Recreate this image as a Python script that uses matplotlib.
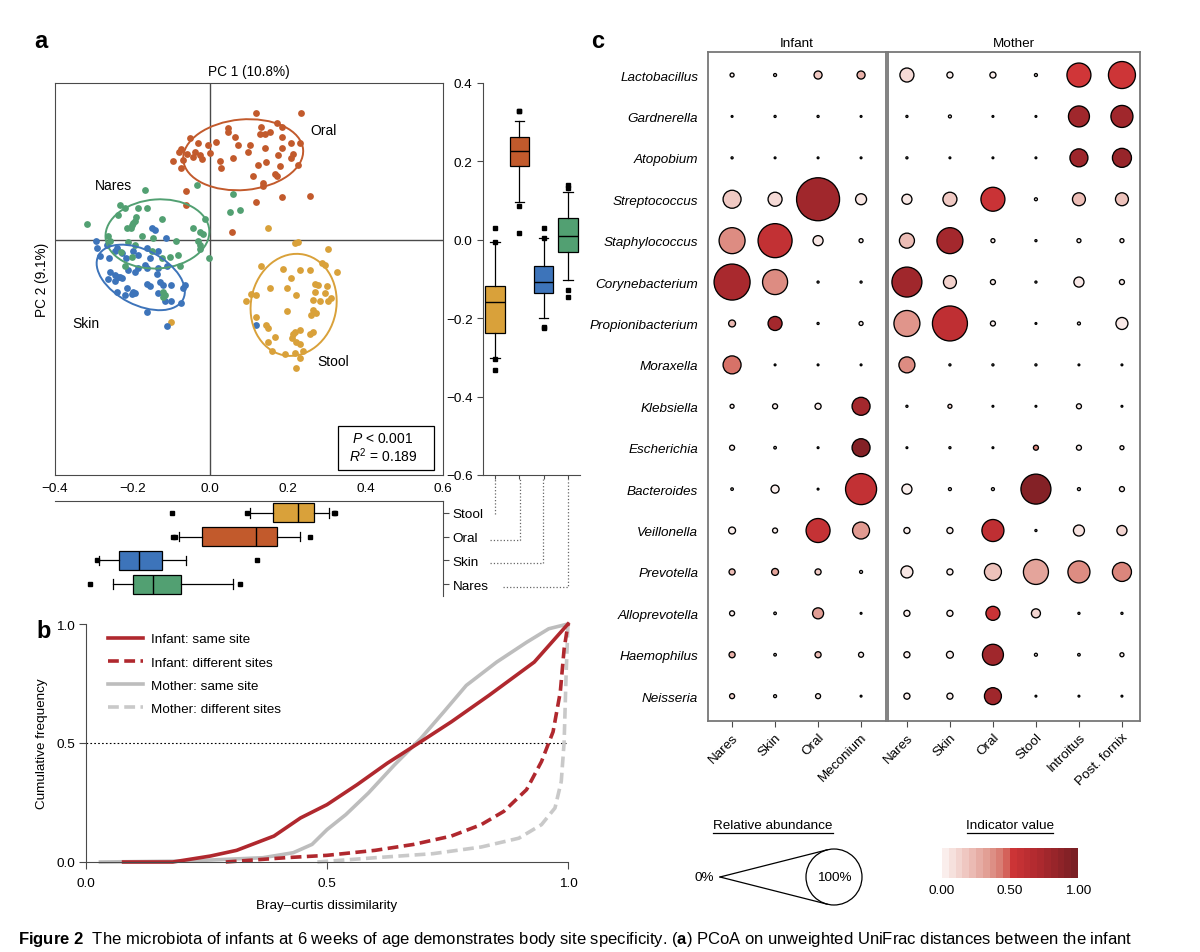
import numpy as np
import matplotlib.pyplot as plt
from matplotlib import font_manager
from matplotlib.patches import Ellipse, Circle, Rectangle
from matplotlib.colors import LinearSegmentedColormap

# ---------------- data ----------------
# panel a: PCoA scatter (PC1, PC2)
oral_pc1 = [0.119, 0.233, 0.171, 0.184, 0.132, 0.045, 0.047, 0.128, 0.141, 0.154, 0.063, 0.184,
            -0.052, -0.031, -0.005, 0.016, 0.072, 0.102, 0.141, 0.184, 0.209, 0.231, -0.074, -0.080,
            -0.061, -0.039, -0.027, -0.022, -0.001, 0.059, 0.098, 0.214, 0.209, 0.175, -0.095, -0.070,
            -0.044, 0.025, 0.145, 0.124, -0.074, 0.029, 0.179, 0.227, 0.166, 0.171, 0.111, 0.136,
            0.136, -0.063, 0.257, 0.184, 0.119, -0.063, 0.057]
oral_pc2 = [0.323, 0.323, 0.299, 0.287, 0.289, 0.285, 0.275, 0.270, 0.270, 0.275, 0.261, 0.261,
            0.259, 0.247, 0.242, 0.249, 0.241, 0.241, 0.235, 0.235, 0.248, 0.247, 0.232, 0.224,
            0.218, 0.224, 0.217, 0.207, 0.221, 0.208, 0.224, 0.218, 0.208, 0.217, 0.201, 0.204,
            0.210, 0.201, 0.198, 0.190, 0.183, 0.183, 0.187, 0.191, 0.167, 0.162, 0.162, 0.145,
            0.136, 0.125, 0.113, 0.108, 0.096, 0.088, 0.020]
nares_pc1 = [-0.168, -0.033, 0.059, 0.051, 0.076, -0.233, -0.220, -0.185, -0.164, -0.190, -0.194,
             -0.198, -0.202, -0.215, -0.205, -0.125, -0.317, -0.237, -0.014, -0.045, -0.027, -0.018,
             -0.177, -0.147, -0.087, -0.031, -0.263, -0.258, -0.211, -0.194, -0.151, -0.123, -0.104,
             -0.082, -0.027, -0.003, -0.078, -0.220, -0.202, -0.231, -0.121, -0.117, -0.121, -0.027]
nares_pc2 = [0.128, 0.139, 0.116, 0.072, 0.075, 0.089, 0.082, 0.081, 0.081, 0.057, 0.048, 0.043,
             0.037, 0.031, 0.031, 0.054, 0.040, 0.064, 0.054, 0.030, 0.020, 0.014, 0.009, 0.004,
             -0.004, -0.004, 0.009, -0.004, -0.006, -0.013, -0.028, -0.047, -0.043, -0.040, -0.023,
             -0.047, -0.068, -0.068, -0.045, -0.031, -0.132, -0.140, -0.147, -0.013]
skin_pc1 = [-0.294, -0.291, -0.284, -0.260, -0.245, -0.239, -0.265, -0.151, -0.142, -0.114, -0.228,
            -0.217, -0.198, -0.185, -0.164, -0.134, -0.155, -0.258, -0.245, -0.237, -0.228, -0.245,
            -0.233, -0.185, -0.168, -0.194, -0.211, -0.164, -0.134, -0.112, -0.138, -0.263, -0.164,
            -0.155, -0.130, -0.121, -0.100, -0.065, -0.070, -0.215, -0.198, -0.241, -0.220, -0.202,
            -0.194, -0.134, -0.117, -0.074, -0.100, -0.164, -0.112, 0.119]
skin_pc2 = [-0.002, -0.020, -0.041, -0.047, -0.028, -0.021, -0.014, 0.030, 0.026, 0.004, -0.034,
            -0.047, -0.028, -0.038, -0.020, -0.028, -0.047, -0.081, -0.089, -0.094, -0.098, -0.106,
            -0.094, -0.072, -0.065, -0.081, -0.077, -0.072, -0.072, -0.068, -0.088, -0.099, -0.113,
            -0.119, -0.108, -0.115, -0.116, -0.115, -0.122, -0.122, -0.132, -0.134, -0.140, -0.139,
            -0.136, -0.136, -0.156, -0.162, -0.156, -0.183, -0.221, -0.217]
stool_pc1 = [0.148, 0.218, 0.227, 0.304, 0.289, 0.295, 0.327, 0.132, 0.188, 0.231, 0.257, 0.209,
             0.269, 0.278, 0.300, 0.198, 0.154, 0.221, 0.269, 0.295, 0.312, 0.265, 0.282, 0.304,
             0.106, 0.119, 0.092, 0.197, 0.265, 0.261, 0.272, 0.119, 0.145, 0.149, 0.218, 0.231,
             0.166, 0.214, 0.257, 0.265, 0.212, 0.222, 0.231, 0.149, 0.158, 0.192, 0.218, 0.239,
             0.231, 0.221, -0.102]
stool_pc2 = [0.030, -0.009, -0.006, -0.024, -0.060, -0.064, -0.083, -0.068, -0.074, -0.077, -0.077,
             -0.098, -0.113, -0.115, -0.119, -0.122, -0.123, -0.140, -0.132, -0.136, -0.149, -0.153,
             -0.156, -0.156, -0.139, -0.140, -0.157, -0.181, -0.179, -0.191, -0.187, -0.198, -0.217,
             -0.225, -0.234, -0.230, -0.249, -0.241, -0.241, -0.236, -0.251, -0.261, -0.266, -0.261,
             -0.283, -0.292, -0.289, -0.283, -0.302, -0.327, -0.210]

# box plot summaries, order: Stool, Oral, Skin, Nares
sites = ['Stool', 'Oral', 'Skin', 'Nares']
pc2_q1 = [-0.239, 0.187, -0.136, -0.030]
pc2_med = [-0.158, 0.226, -0.107, 0.010]
pc2_q3 = [-0.117, 0.263, -0.068, 0.056]
pc2_lo = [-0.302, 0.096, -0.200, -0.103]
pc2_hi = [-0.005, 0.304, 0.005, 0.121]
pc2_fliers = [[0.029, -0.005, -0.305, -0.332], [0.328, 0.328, 0.087, 0.017],
              [0.029, 0.005, -0.222, -0.226], [0.140, 0.132, -0.128, -0.147]]
pc1_q1 = [0.162, -0.021, -0.235, -0.199]
pc1_med = [0.226, 0.118, -0.183, -0.147]
pc1_q3 = [0.268, 0.173, -0.124, -0.075]
pc1_lo = [0.103, -0.080, -0.287, -0.251]
pc1_hi = [0.306, 0.231, -0.062, 0.058]
pc1_fliers = [[-0.098, 0.095, 0.318, 0.322], [-0.091, -0.095, 0.256],
              [-0.292, 0.121], [-0.310, 0.078]]

# panel b: cumulative curves
inf_same_x = [0.078, 0.18, 0.258, 0.3125, 0.39, 0.445, 0.5, 0.5625, 0.625, 0.695, 0.758, 0.836, 0.93, 1.0]
inf_same_y = [0.0, 0.0, 0.025, 0.049, 0.109, 0.185, 0.241, 0.325, 0.415, 0.506, 0.589, 0.70, 0.84, 1.0]
inf_diff_x = [0.29, 0.414, 0.5, 0.6, 0.68, 0.758, 0.82, 0.867, 0.914, 0.945, 0.969, 0.984, 0.992, 1.0]
inf_diff_y = [0.0, 0.018, 0.028, 0.049, 0.074, 0.109, 0.157, 0.213, 0.304, 0.422, 0.547, 0.714, 0.896, 1.0]
mom_same_x = [0.03, 0.21, 0.367, 0.43, 0.469, 0.5, 0.539, 0.586, 0.64, 0.695, 0.742, 0.789, 0.852,
              0.914, 0.96, 1.0]
mom_same_y = [0.0, 0.004, 0.018, 0.039, 0.074, 0.136, 0.199, 0.29, 0.408, 0.52, 0.63, 0.742, 0.84,
              0.923, 0.98, 1.0]
mom_diff_x = [0.48, 0.6, 0.72, 0.82, 0.898, 0.945, 0.973, 0.986, 0.992, 0.996, 1.0]
mom_diff_y = [0.0, 0.018, 0.035, 0.063, 0.10, 0.157, 0.227, 0.338, 0.505, 0.784, 1.0]

# panel c: relative abundance (%) and indicator value
genera = ['Lactobacillus', 'Gardnerella', 'Atopobium', 'Streptococcus', 'Staphylococcus',
          'Corynebacterium', 'Propionibacterium', 'Moraxella', 'Klebsiella', 'Escherichia',
          'Bacteroides', 'Veillonella', 'Prevotella', 'Alloprevotella', 'Haemophilus', 'Neisseria']
infant_sites = ['Nares', 'Skin', 'Oral', 'Meconium']
mother_sites = ['Nares', 'Skin', 'Oral', 'Stool', 'Introitus', 'Post. fornix']
infant_abund = [[0.8, 0.5, 2.6, 2.6], [0.2, 0.3, 0.3, 0.13], [0.3, 0.13, 0.13, 0.13],
                [11.5, 7.2, 61.7, 4.6], [23.2, 39.1, 3.9, 0.8], [43.7, 21.6, 0.3, 0.3],
                [2.0, 7.2, 0.3, 0.8], [11.5, 0.13, 0.13, 0.13], [0.8, 1.15, 1.6, 11.5],
                [1.15, 0.4, 0.2, 11.5], [0.4, 2.6, 0.13, 32.7], [2.0, 1.15, 19.9, 10.3],
                [1.6, 2.0, 1.6, 0.5], [1.15, 0.4, 4.6, 0.2], [1.6, 0.4, 1.6, 1.15],
                [1.15, 0.5, 1.15, 0.2]]
infant_ind = [[0, 0, 0.15, 0.25], [0, 0, 0, 0], [0, 0, 0, 0], [0.15, 0.08, 0.8, 0.03],
              [0.38, 0.6, 0.03, 0], [0.75, 0.38, 0, 0], [0.22, 0.78, 0, 0], [0.45, 0, 0, 0],
              [0, 0, 0, 0.78], [0, 0, 0, 0.95], [0, 0, 0, 0.6], [0, 0, 0.58, 0.33],
              [0.2, 0.3, 0.15, 0], [0, 0, 0.32, 0], [0.25, 0, 0.2, 0], [0.1, 0, 0, 0]]
mother_abund = [[7.2, 1.6, 1.6, 0.5, 19.9, 25.0], [0.3, 0.5, 0.2, 0.13, 15.4, 16.9],
                [0.3, 0.2, 0.13, 0.13, 11.5, 12.8], [3.9, 7.2, 19.9, 0.5, 6.2, 6.2],
                [8.2, 23.2, 0.8, 0.3, 0.8, 0.8], [30.6, 6.2, 1.15, 0.3, 3.9, 1.15],
                [23.2, 41.3, 1.15, 0.13, 0.5, 5.4], [9.2, 0.3, 0.3, 0.3, 0.2, 0.2],
                [0.3, 0.8, 0.2, 0.2, 1.15, 0.2], [0.13, 0.3, 0.2, 1.15, 1.15, 0.8],
                [3.9, 0.5, 0.5, 30.6, 0.5, 1.15], [1.6, 1.6, 16.9, 0.3, 4.6, 3.9],
                [5.4, 1.6, 10.3, 21.6, 16.9, 12.8], [1.6, 1.6, 7.2, 3.2, 0.3, 0.3],
                [1.6, 2.0, 15.4, 0.5, 0.4, 0.8], [1.6, 1.6, 10.3, 0.2, 0.2, 0.2]]
mother_ind = [[0.08, 0, 0, 0, 0.5, 0.52], [0, 0, 0, 0, 0.8, 0.8], [0, 0, 0, 0, 0.82, 0.85],
              [0.03, 0.15, 0.55, 0, 0.2, 0.18], [0.2, 0.78, 0, 0, 0, 0], [0.8, 0.12, 0, 0, 0.02, 0],
              [0.35, 0.62, 0, 0, 0, 0.02], [0.38, 0, 0, 0, 0, 0], [0, 0.1, 0, 0, 0, 0],
              [0, 0, 0, 0.4, 0, 0], [0, 0, 0, 0.95, 0, 0], [0, 0, 0.62, 0, 0.05, 0.1],
              [0.03, 0, 0.18, 0.3, 0.38, 0.4], [0, 0, 0.55, 0.1, 0, 0], [0, 0, 0.8, 0, 0, 0],
              [0, 0, 0.8, 0, 0, 0]]

# ---------------- style ----------------
names = {f.name for f in font_manager.fontManager.ttflist}
narrow = 'Liberation Sans Narrow' if 'Liberation Sans Narrow' in names else 'Liberation Sans'
plt.rcParams['font.family'] = ['Liberation Sans', 'DejaVu Sans']
plt.rcParams['font.size'] = 9.7
plt.rcParams['mathtext.fontset'] = 'custom'
plt.rcParams['mathtext.rm'] = 'Liberation Sans'
plt.rcParams['mathtext.it'] = 'Liberation Sans:italic'
plt.rcParams['mathtext.bf'] = narrow + ':bold'

W, H = 1200, 953
fig = plt.figure(figsize=(W / 100, H / 100), dpi=100)


def box(l, t, r, b):
    return [l / W, 1 - b / H, (r - l) / W, (b - t) / H]


def minus(v, fmt='%.1f'):
    return (fmt % v).replace('-', '\u2212')


site_col = {'Stool': '#D9A13A', 'Oral': '#C25A2C', 'Skin': '#3D74BA', 'Nares': '#52A072'}
dark = '#4a4a4a'

# overlay in pixel coordinates for annotations
ov = fig.add_axes([0, 0, 1, 1])
ov.set_xlim(0, W)
ov.set_ylim(H, 0)
ov.axis('off')

# ---------------- panel a ----------------
ax = fig.add_axes(box(55, 84, 443, 476))
ax.axhline(0, color=dark, lw=1, zorder=1)
ax.axvline(0, color=dark, lw=1, zorder=1)
for xs, ys, site in [(oral_pc1, oral_pc2, 'Oral'), (stool_pc1, stool_pc2, 'Stool'),
                     (skin_pc1, skin_pc2, 'Skin'), (nares_pc1, nares_pc2, 'Nares')]:
    ax.scatter(xs, ys, s=24, color=site_col[site], linewidths=0, zorder=3)

# group ellipses
for (cx, cy), w, h, ang, site in [((0.085, 0.217), 0.31, 0.18, 5, 'Oral'),
                                  ((-0.136, 0.015), 0.268, 0.176, 4, 'Nares'),
                                  ((-0.179, -0.096), 0.245, 0.14, -27, 'Skin'),
                                  ((0.215, -0.166), 0.262, 0.22, 78, 'Stool')]:
    ax.add_patch(Ellipse((cx, cy), w, h, angle=ang, fill=False, ec=site_col[site], lw=1.4, zorder=4))

ax.text(0.257, 0.281, 'Oral', ha='left', va='center', fontsize=10)
ax.text(-0.25, 0.14, 'Nares', ha='center', va='center', fontsize=10)
ax.text(-0.32, -0.211, 'Skin', ha='center', va='center', fontsize=10)
ax.text(0.317, -0.308, 'Stool', ha='center', va='center', fontsize=10)

ax.add_patch(Rectangle((0.729, 0.013), 0.248, 0.112, transform=ax.transAxes,
                       fill=False, ec='black', lw=0.9))
ax.text(0.845, 0.094, r'$P$ < 0.001', transform=ax.transAxes, ha='center', va='center', fontsize=10)
ax.text(0.845, 0.051, r'$R^2$ = 0.189', transform=ax.transAxes, ha='center', va='center', fontsize=10)

xticks = [-0.4, -0.2, 0.0, 0.2, 0.4, 0.6]
yticks = [-0.6, -0.4, -0.2, 0.0, 0.2, 0.4]
ax.set_xticks(xticks)
ax.set_xticklabels([minus(t) for t in xticks])
ax.tick_params(axis='x', length=0, pad=5)
ax.set_yticks([])
ax.set_xlim(-0.4, 0.6)
ax.set_ylim(-0.6, 0.4)
ax.set_title('PC 1 (10.8%)', pad=6, fontsize=9.8)
ax.set_ylabel('PC 2 (9.1%)', labelpad=4, fontsize=9.8)
for sp in ax.spines.values():
    sp.set_color(dark)

# box plot of PC2 (right)
bprops = dict(patch_artist=True, widths=0.8, manage_ticks=False, capwidths=0.4,
              medianprops=dict(color='black', lw=1),
              whiskerprops=dict(color='black', lw=0.9), capprops=dict(color='black', lw=0.9),
              boxprops=dict(ec='black', lw=0.9),
              flierprops=dict(marker='s', markersize=2.6, mfc='black', mec='black'))
stats2 = [dict(q1=a, med=b, q3=c, whislo=d, whishi=e, fliers=f)
          for a, b, c, d, e, f in zip(pc2_q1, pc2_med, pc2_q3, pc2_lo, pc2_hi, pc2_fliers)]
axr = fig.add_axes(box(483, 84, 580, 476))
res = axr.bxp(stats2, positions=[1, 2, 3, 4], **bprops)
for patch, site in zip(res['boxes'], sites):
    patch.set_facecolor(site_col[site])
axr.set_yticks(yticks)
axr.set_yticklabels([minus(t) for t in yticks])
axr.set_xticks([1, 2, 3, 4])
axr.set_xticklabels([])
axr.set_xlim(0.5, 4.5)
axr.set_ylim(-0.6, 0.4)
axr.tick_params(axis='x', length=3, color=dark)
axr.tick_params(axis='y', length=4, color=dark)
axr.spines[['top', 'right']].set_visible(False)
axr.spines[['left', 'bottom']].set_color(dark)
axr.patch.set_alpha(0)

# box plot of PC1 (below)
stats1 = [dict(q1=a, med=b, q3=c, whislo=d, whishi=e, fliers=f)
          for a, b, c, d, e, f in zip(pc1_q1, pc1_med, pc1_q3, pc1_lo, pc1_hi, pc1_fliers)]
axb = fig.add_axes(box(55, 502, 443, 597))
res = axb.bxp(stats1, positions=[1, 2, 3, 4], orientation='horizontal', **bprops)
for patch, site in zip(res['boxes'], sites):
    patch.set_facecolor(site_col[site])
axb.set_xticks([])
axb.set_yticks([1, 2, 3, 4])
axb.set_yticklabels(sites)
axb.set_xlim(-0.4, 0.6)
axb.set_ylim(4.5, 0.5)
axb.yaxis.tick_right()
axb.tick_params(axis='y', length=4, color=dark, pad=3)
axb.spines[['left', 'bottom']].set_visible(False)
axb.spines[['top', 'right']].set_color(dark)
axb.patch.set_alpha(0)

# dotted connectors between the two box plots
for xv, x0, yh in [(495, 495, 515), (520, 490, 541), (543, 490, 564), (568, 503, 588)]:
    ov.plot([x0, xv, xv], [yh, yh, 480], ls=':', color='#666', lw=0.9)

# ---------------- panel b ----------------
axc = fig.add_axes(box(86, 625, 568, 863))
red = '#B0282E'
axc.plot(mom_same_x, mom_same_y, color='#BDBDBD', lw=2.6, label='Mother: same site', clip_on=False)
axc.plot(mom_diff_x, mom_diff_y, color='#C9C9C9', lw=2.6, ls=(0, (3, 1.5)),
         label='Mother: different sites', clip_on=False)
axc.plot(inf_same_x, inf_same_y, color=red, lw=2.6, label='Infant: same site', clip_on=False)
axc.plot(inf_diff_x, inf_diff_y, color=red, lw=2.6, ls=(0, (3, 1.5)),
         label='Infant: different sites', clip_on=False)
axc.axhline(0.5, color='black', lw=0.8, ls=(0, (1.5, 2)), zorder=0)
axc.set_xticks([0, 0.5, 1.0])
axc.set_xticklabels(['0.0', '0.5', '1.0'])
axc.set_yticks([0, 0.5, 1.0])
axc.set_yticklabels(['0.0', '0.5', '1.0'])
axc.set_xlim(0, 1)
axc.set_ylim(0, 1)
axc.tick_params(axis='x', length=5, pad=6, color=dark)
axc.tick_params(axis='y', length=5, pad=3, color=dark)
axc.spines[['top', 'right']].set_visible(False)
axc.spines[['left', 'bottom']].set_color(dark)
axc.set_xlabel('Bray\u2013curtis dissimilarity', labelpad=7)
axc.set_ylabel('Cumulative frequency', labelpad=6)
h, l = axc.get_legend_handles_labels()
order = [2, 3, 0, 1]
axc.legend([h[i] for i in order], [l[i] for i in order], loc='upper left',
           bbox_to_anchor=(0.045, 0.962), frameon=False, handlelength=2.6, handletextpad=0.6,
           labelspacing=0.8, borderpad=0, borderaxespad=0)

# ---------------- panel c ----------------
cmap = LinearSegmentedColormap.from_list('ind', [
    (0.0, '#FAEEEC'), (0.1, '#F3D5D0'), (0.2, '#ECBDB6'), (0.3, '#E4A39A'),
    (0.4, '#DB867C'), (0.47, '#D56A61'), (0.5, '#D03638'), (0.7, '#B32B30'), (1.0, '#7B1F24')])
D100 = 56  # px diameter of the 100% circle


def bubbles(axis, abund, ind, sites_):
    a = np.array(abund)
    v = np.array(ind)
    nr, nc = a.shape
    xx, yy = np.meshgrid(np.arange(nc), np.arange(nr))
    d_px = np.maximum(D100 * np.sqrt(a / 100.0) - 1.0, 1.8)
    axis.scatter(xx.ravel(), yy.ravel(), s=(d_px.ravel() * 0.72) ** 2, c=v.ravel(), cmap=cmap,
                 vmin=0, vmax=1, edgecolors='black', linewidths=0.95, zorder=3, clip_on=False)
    axis.set_xticks(range(nc))
    axis.set_xticklabels(sites_, rotation=45, ha='right', rotation_mode='anchor')
    axis.tick_params(axis='x', length=4, color=dark, pad=3)
    for sp in axis.spines.values():
        sp.set_color('#777')
        sp.set_linewidth(1.3)


axi = fig.add_axes(box(708, 53, 886, 722))
bubbles(axi, infant_abund, infant_ind, infant_sites)
axi.set_yticks(range(len(genera)))
axi.set_yticklabels(genera, style='italic')
axi.set_xlim(-0.56, 3.58)
axi.set_ylim(15.6, -0.556)
axi.tick_params(axis='y', length=0, pad=7)
axi.set_title('Infant', pad=4, fontsize=9.7)

axm = fig.add_axes(box(888, 53, 1140, 722))
bubbles(axm, mother_abund, mother_ind, mother_sites)
axm.set_yticks([])
axm.set_xlim(-0.44, 5.42)
axm.set_ylim(15.6, -0.556)
axm.set_title('Mother', pad=4, fontsize=9.7)

# relative abundance legend
ov.text(773, 826, 'Relative abundance', ha='center', va='center', fontsize=9.7)
ov.plot([713, 833], [834, 834], color='black', lw=0.9)
cx, cy, r, px0 = 834, 878, D100 / 2, 720
ang = np.arccos(r / (cx - px0))
for sgn in (1, -1):
    ov.plot([px0, cx - r * np.cos(ang)], [cy, cy - sgn * r * np.sin(ang)], color='black', lw=0.9)
ov.add_patch(Circle((cx, cy), r, fill=False, ec='black', lw=0.9))
ov.text(714, cy, '0%', ha='right', va='center', fontsize=9.7)
ov.text(cx, cy, '100%', ha='center', va='center', fontsize=9.7)

# indicator value colour bar
ov.text(1010, 826, 'Indicator value', ha='center', va='center', fontsize=9.7)
ov.plot([967, 1053], [834, 834], color='black', lw=0.9)
axk = fig.add_axes(box(942, 849, 1078, 879))
axk.imshow(np.linspace(0, 1, 20)[None, :], cmap=cmap, vmin=0, vmax=1, aspect='auto',
           extent=[0, 1, 0, 1])
axk.set_xticks([0, 0.5, 1])
axk.set_xticklabels(['0.00', '0.50', '1.00'])
axk.set_yticks([])
axk.tick_params(axis='x', length=0, pad=4)
for sp in axk.spines.values():
    sp.set_visible(False)

# panel letters and caption
ov.text(41, 42, 'a', ha='center', va='center', fontsize=17, fontweight='bold')
ov.text(44, 632, 'b', ha='center', va='center', fontsize=17, fontweight='bold')
ov.text(598, 42, 'c', ha='center', va='center', fontsize=17, fontweight='bold')
ov.text(18, 940, r'$\mathbf{Figure\ 2}$  The microbiota of infants at 6 weeks of age demonstrates '
        r'body site specificity. ($\mathbf{a}$) PCoA on unweighted UniFrac distances between the infant',
        ha='left', va='center', fontsize=12, family=narrow)

fig.savefig('out.png', dpi=100)
